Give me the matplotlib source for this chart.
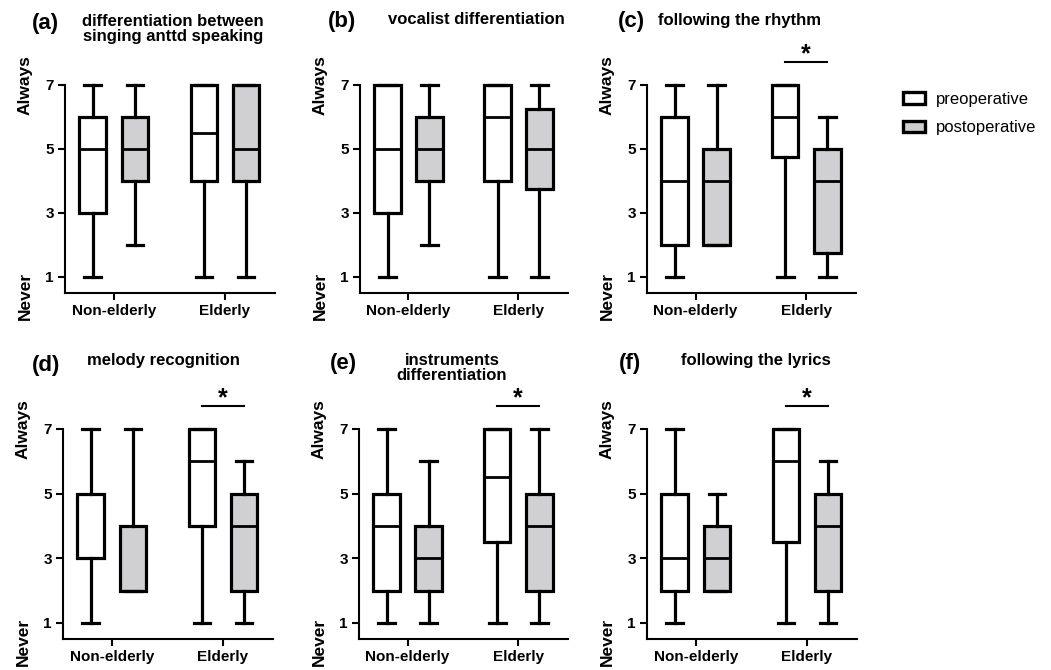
import matplotlib
matplotlib.use('Agg')
import matplotlib.pyplot as plt
from matplotlib.patches import Patch
from matplotlib.transforms import blended_transform_factory

plt.rcParams['font.family'] = ['Liberation Sans', 'DejaVu Sans']

# Данные: (нижний ус, Q1, медиана, Q3, верхний ус) по панелям
GROUPS = ['Non-elderly', 'Elderly']
PANEL_TAGS = ['(a)', '(b)', '(c)', '(d)', '(e)', '(f)']
PANEL_TITLES = ['differentiation between\nsinging anttd speaking',
                'vocalist differentiation',
                'following the rhythm',
                'melody recognition',
                'instruments\ndifferentiation',
                'following the lyrics']

pre_stats = [
    [(1, 3, 5, 6, 7), (1, 4, 5.5, 7, 7)],
    [(1, 3, 5, 7, 7), (1, 4, 6, 7, 7)],
    [(1, 2, 4, 6, 7), (1, 4.75, 6, 7, 7)],
    [(1, 3, 5, 5, 7), (1, 4, 6, 7, 7)],
    [(1, 2, 4, 5, 7), (1, 3.5, 5.5, 7, 7)],
    [(1, 2, 3, 5, 7), (1, 3.5, 6, 7, 7)],
]
post_stats = [
    [(2, 4, 5, 6, 7), (1, 4, 5, 7, 7)],
    [(2, 4, 5, 6, 7), (1, 3.75, 5, 6.25, 7)],
    [(2, 2, 4, 5, 7), (1, 1.75, 4, 5, 6)],
    [(2, 2, 4, 4, 7), (1, 2, 4, 5, 6)],
    [(1, 2, 3, 4, 6), (1, 2, 4, 5, 7)],
    [(2, 2, 3, 4, 5), (1, 2, 4, 5, 6)],
]
# звёздочка значимости над группой Elderly
significant = [False, False, True, True, True, True]

W, H = 1051, 670
PRE_COLOR = '#FFFFFF'
POST_COLOR = '#D0D0D2'

# позиции осей в пикселях: (левый край, правый край, верх, низ)
AX_PX = [(65, 275, 43, 293), (360, 568, 43, 293), (647, 856, 43, 293),
         (63, 273, 387, 639), (359, 568, 387, 639), (647, 857, 387, 639)]
TAG_PX = [(45, 23), (342, 22), (631, 22), (46, 365), (343, 363), (630, 363)]
TITLE_PX = [(173, 29), (476, 20), (740, 20), (163, 361), (452, 368), (756, 360)]


def to_stats(vals):
    lo, q1, med, q3, hi = vals
    return {'whislo': lo, 'q1': q1, 'med': med, 'q3': q3, 'whishi': hi, 'fliers': []}


fig = plt.figure(figsize=(W / 100, H / 100), dpi=100)
fig.patch.set_facecolor('white')

lw = 2.3
offs = 0.19
bw = 0.24

for i in range(6):
    l, r, t, b = AX_PX[i]
    ax = fig.add_axes([l / W, 1 - b / H, (r - l) / W, (b - t) / H])
    pos = [1, 2]
    for stats, dx, fc in [(pre_stats[i], -offs, PRE_COLOR), (post_stats[i], offs, POST_COLOR)]:
        ax.bxp([to_stats(s) for s in stats], positions=[p + dx for p in pos],
               widths=bw, capwidths=0.15, patch_artist=True, showfliers=False,
               boxprops=dict(facecolor=fc, edgecolor='black', linewidth=lw),
               whiskerprops=dict(color='black', linewidth=lw),
               capprops=dict(color='black', linewidth=lw),
               medianprops=dict(color='black', linewidth=2.0),
               manage_ticks=False)

    ax.set_xlim(0.56, 2.45)
    ax.set_ylim(0.5, 8.3)
    ax.set_xticks(pos)
    ax.set_xticklabels(GROUPS, fontsize=11, fontweight='bold')
    ax.set_yticks([1, 3, 5, 7])
    ax.set_yticklabels(['1', '3', '5', '7'], fontsize=11, fontweight='bold')
    ax.tick_params(width=1.5, length=5, pad=3)
    for sp in ['top', 'right']:
        ax.spines[sp].set_visible(False)
    for sp in ['left', 'bottom']:
        ax.spines[sp].set_linewidth(1.5)
    ax.spines['left'].set_bounds(0.5, 7)

    trans = blended_transform_factory(ax.transAxes, ax.transData)
    ax.text(-0.19, 7.0, 'Always', transform=trans, rotation=90,
            ha='center', va='center', fontsize=12.5, fontweight='bold')
    ax.text(-0.19, 0.42, 'Never', transform=trans, rotation=90,
            ha='center', va='center', fontsize=12.5, fontweight='bold', clip_on=False)

    if significant[i]:
        ax.plot([2 - offs, 2 + offs], [7.7, 7.7], color='black', lw=1.5, clip_on=False)
        ax.text(2, 7.72, '*', ha='center', va='baseline', fontsize=18, fontweight='bold')

    tx, ty = TAG_PX[i]
    fig.text(tx / W, 1 - ty / H, PANEL_TAGS[i], ha='center', va='center',
             fontsize=16, fontweight='bold')
    nx, ny = TITLE_PX[i]
    fig.text(nx / W, 1 - ny / H, PANEL_TITLES[i], ha='center', va='center',
             fontsize=12, fontweight='bold', linespacing=1.0)

handles = [Patch(facecolor=PRE_COLOR, edgecolor='black', linewidth=2.4),
           Patch(facecolor=POST_COLOR, edgecolor='black', linewidth=2.4)]
fig.legend(handles, ['preoperative', 'postoperative'], loc='upper left',
           bbox_to_anchor=(903 / W, 1 - 92 / H), frameon=False, fontsize=12,
           handlelength=1.3, handleheight=0.72, handletextpad=0.7,
           labelspacing=0.8, borderpad=0, borderaxespad=0)

fig.savefig('out.png', dpi=100, facecolor='white')
